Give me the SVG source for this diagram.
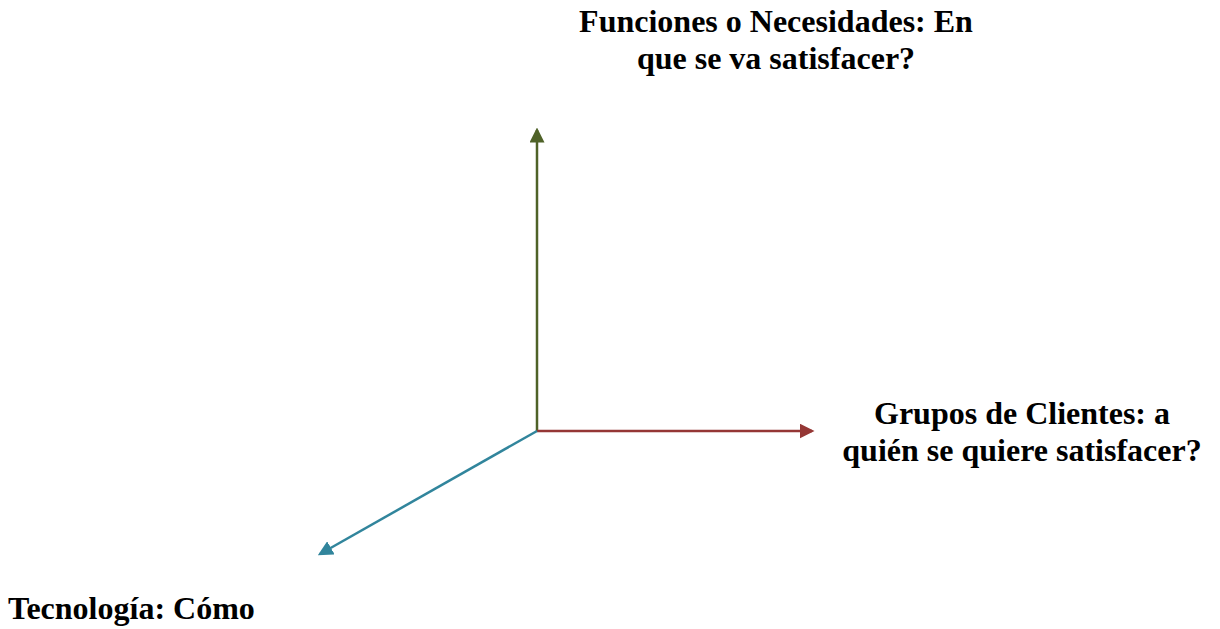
<svg xmlns="http://www.w3.org/2000/svg" width="1220" height="629" viewBox="0 0 1220 629">
<style>
.t{font-family:"Liberation Serif","Times New Roman",serif;font-weight:bold;font-size:32px;fill:#000}
</style>
<defs>
<marker id="ag" markerWidth="6" markerHeight="6" refX="5" refY="3" orient="auto" markerUnits="strokeWidth"><path d="M0,0 L6,3 L0,6 z" fill="#4F6228"/></marker>
<marker id="ar" markerWidth="6" markerHeight="6" refX="5" refY="3" orient="auto" markerUnits="strokeWidth"><path d="M0,0 L6,3 L0,6 z" fill="#953735"/></marker>
<marker id="ab" markerWidth="6" markerHeight="6" refX="5" refY="3" orient="auto" markerUnits="strokeWidth"><path d="M0,0 L6,3 L0,6 z" fill="#31859C"/></marker>
</defs>
<rect width="1220" height="629" fill="#fff"/>
<g id="connectors" stroke-width="2.5" fill="none">
<line x1="537" y1="431" x2="537" y2="130" stroke="#4F6228" marker-end="url(#ag)"/>
<line x1="537" y1="431" x2="812" y2="431" stroke="#953735" marker-end="url(#ar)"/>
<line x1="537" y1="431" x2="320" y2="554" stroke="#31859C" marker-end="url(#ab)"/>
</g>
<g id="funciones"><text class="t" text-anchor="middle"><tspan x="776" y="32">Funciones o Necesidades: En</tspan><tspan x="776" y="69">que se va satisfacer?</tspan></text></g>
<g id="grupos"><text class="t" text-anchor="middle"><tspan x="1022" y="424">Grupos de Clientes: a</tspan><tspan x="1022" y="461">quién se quiere satisfacer?</tspan></text></g>
<g id="tecnologia"><text class="t"><tspan x="8" y="619">Tecnología: Cómo</tspan></text></g>
</svg>
